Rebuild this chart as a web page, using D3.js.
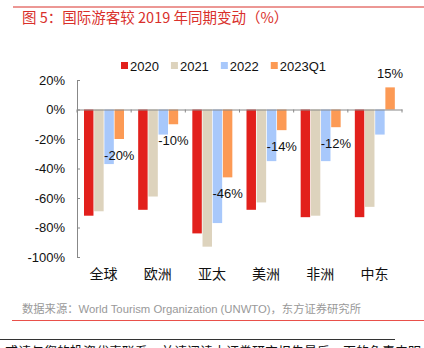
<!DOCTYPE html>
<html>
<head>
<meta charset="utf-8">
<script src="https://cdn.jsdelivr.net/npm/d3@7"></script>
<style>
  body { margin: 0; background: #fff; }
  svg { display: block; }
</style>
</head>
<body>
<svg id="chart" width="424" height="348"></svg>
<script>
const categories = ["全球", "欧洲", "亚太", "美洲", "非洲", "中东"];
const seriesNames = ["2020", "2021", "2022", "2023Q1"];
const v2020 = [-72, -68, -84, -68, -73, -73];
const v2021 = [-69, -59, -93, -63, -72, -66];
const v2022 = [-37, -17, -77, -35, -35, -17];
const v2023Q1 = [-20, -10, -46, -14, -12, 15];
const yTicks = [20, 0, -20, -40, -60, -80, -100];
const colors = ["#e2201c", "#ddd3bd", "#a8c8fb", "#fc9a55"];

const seriesValues = [v2020, v2021, v2022, v2023Q1];
const cn = "'Noto Sans CJK SC', sans-serif";
const lat = "'Liberation Sans', Arial, 'Noto Sans CJK SC', sans-serif";

const svg = d3.select("#chart");

// header line and title
svg.append("line").attr("x1", 13).attr("x2", 424).attr("y1", 7).attr("y2", 7)
    .attr("stroke", "#d9302b").attr("stroke-width", 1);
svg.append("text").attr("x", 22).attr("y", 23)
    .attr("fill", "#d9302b").style("font-family", cn).style("font-size", "14.5px")
    .text("图 5：国际游客较 2019 年同期变动（%）");

const x = d3.scaleBand().domain(categories).range([77, 402]);
const xs = d3.scaleBand().domain(seriesNames).range([7, 47]).paddingInner(0.07);
const y = d3.scaleLinear().domain([-100, 20]).range([257, 80]);

// y axis
const yAxis = svg.append("g").attr("transform", "translate(77,0)")
    .call(d3.axisLeft(y).tickValues(yTicks).tickSize(-3).tickPadding(12).tickFormat(d => d + "%"));
yAxis.select(".domain").attr("stroke", "#888");
yAxis.selectAll(".tick line").attr("stroke", "#888");
yAxis.selectAll(".tick text").attr("fill", "#111").style("font-family", lat).style("font-size", "13px");

// bars
const groups = svg.selectAll(".grp").data(categories).enter().append("g")
    .attr("transform", d => `translate(${x(d)},0)`);
seriesNames.forEach((s, si) => {
    groups.append("rect")
        .attr("x", xs(s))
        .attr("width", xs.bandwidth())
        .attr("y", (d, i) => y(Math.max(0, seriesValues[si][i])))
        .attr("height", (d, i) => Math.abs(y(seriesValues[si][i]) - y(0)))
        .attr("fill", colors[si]);
});

// x axis at zero
const xAxis = svg.append("g").attr("transform", `translate(0,${y(0)})`)
    .call(d3.axisBottom(x).tickSize(0).tickFormat(""));
xAxis.select(".domain").attr("stroke", "#888");
svg.append("g").selectAll("line").data(d3.range(categories.length + 1)).enter().append("line")
    .attr("x1", i => 77 + i * x.step()).attr("x2", i => 77 + i * x.step())
    .attr("y1", y(0)).attr("y2", y(0) + 3).attr("stroke", "#888");

// category labels
svg.append("g").selectAll("text").data(categories).enter().append("text")
    .attr("x", d => x(d) + x.bandwidth() / 2 - 0.5).attr("y", 279)
    .attr("text-anchor", "middle").attr("fill", "#111")
    .style("font-family", cn).style("font-size", "14px").text(d => d);

// data labels for 2023Q1
svg.append("g").selectAll("text").data(categories).enter().append("text")
    .attr("x", d => x(d) + xs("2023Q1") + xs.bandwidth() / 2)
    .attr("y", (d, i) => v2023Q1[i] < 0 ? y(v2023Q1[i]) + 21 : y(v2023Q1[i]) - 9)
    .attr("text-anchor", "middle").attr("fill", "#111")
    .style("font-family", lat).style("font-size", "13px")
    .text((d, i) => v2023Q1[i] + "%");

// legend
const legend = svg.append("g");
let lx = 121;
seriesNames.forEach((s, si) => {
    legend.append("rect").attr("x", lx).attr("y", 62).attr("width", 7).attr("height", 7).attr("fill", colors[si]);
    const t = legend.append("text").attr("x", lx + 9).attr("y", 71)
        .attr("fill", "#111").style("font-family", lat).style("font-size", "13px").text(s);
    lx += 9 + t.node().getComputedTextLength() + 12;
});

// footer
svg.append("text").attr("x", 22).attr("y", 313)
    .attr("fill", "#999").style("font-family", lat).style("font-size", "11.3px")
    .text("数据来源：World Tourism Organization (UNWTO)，东方证券研究所");
svg.append("line").attr("x1", 12).attr("x2", 424).attr("y1", 320.5).attr("y2", 320.5)
    .attr("stroke", "#e9504a").attr("stroke-width", 1);
svg.append("line").attr("x1", 0).attr("x2", 395).attr("y1", 339.5).attr("y2", 339.5)
    .attr("stroke", "#333").attr("stroke-width", 1);
svg.append("text").attr("x", 5).attr("y", 356)
    .attr("fill", "#111").style("font-family", cn).style("font-size", "13px")
    .text("或请与您的投资代表联系。并请阅读本证券研究报告最后一页的免责申明。");
</script>
</body>
</html>
